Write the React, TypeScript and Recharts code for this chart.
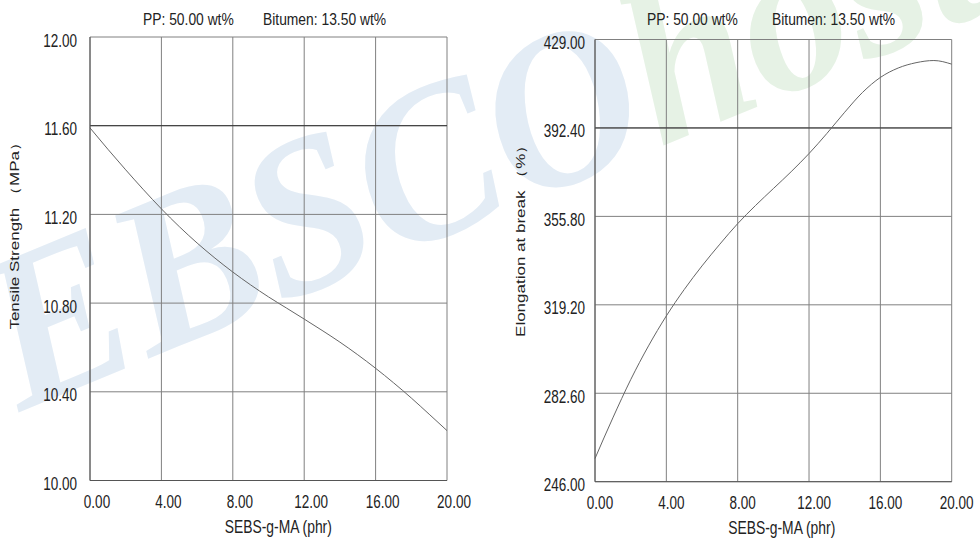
import { CartesianGrid, Line, LineChart, ReferenceLine, XAxis, YAxis } from "recharts";

// SEBS-g-MA loading (phr) and the fitted responses at PP 50 wt%, bitumen 13.5 wt%
const sebsPhr = [0, 1, 2, 3, 4, 5, 6, 7, 8, 9, 10, 11, 12, 13, 14, 15, 16, 17, 18, 19, 20];
const tensileMPa = [
  11.59, 11.494, 11.401, 11.311, 11.225, 11.145, 11.071, 11.003, 10.94, 10.882,
  10.828, 10.778, 10.728, 10.677, 10.624, 10.567, 10.506, 10.441, 10.372, 10.299, 10.225,
];
const elongationPct = [
  255.6, 272.4, 288.2, 302.2, 314.6, 325.5, 335.3, 344.3, 352.8, 360.3, 367.3,
  374.3, 381.8, 390.1, 398.9, 407.1, 413.3, 417.2, 419.4, 420.3, 418.8,
];

const xTicks = [0, 4, 8, 12, 16, 20];
const tensileTicks = [10, 10.4, 10.8, 11.2, 11.6, 12];
const elongationTicks = [246, 282.6, 319.2, 355.8, 392.4, 429];

const FONT = "'Liberation Sans', Arial, sans-serif";
const INK = "#222";
const GRID = "#808080";

const tensileData = sebsPhr.map((x, i) => ({ x, y: tensileMPa[i] }));
const elongationData = sebsPhr.map((x, i) => ({ x, y: elongationPct[i] }));

// narrow, tall labels: squeeze glyphs horizontally
function xTick(dx: number) {
  return (props: any) => {
    const { x, y, payload } = props;
    return (
      <text
        transform={`translate(${x + dx},${y + 27.5}) scale(0.73,1)`}
        textAnchor="middle"
        fontSize={18.5}
        fontFamily={FONT}
        fill={INK}
      >
        {Number(payload.value).toFixed(2)}
      </text>
    );
  };
}

function yTick(dx: number) {
  return (props: any) => {
    const { x, y, payload } = props;
    return (
      <text
        transform={`translate(${x - dx},${y + 9.5}) scale(0.73,1)`}
        textAnchor="end"
        fontSize={18.5}
        fontFamily={FONT}
        fill={INK}
      >
        {Number(payload.value).toFixed(2)}
      </text>
    );
  };
}

function Panel({
  data,
  ticks,
  yWidth,
  margin,
  xHeight,
  xDx,
  yDx,
}: {
  data: { x: number; y: number }[];
  ticks: number[];
  yWidth: number;
  margin: { top: number; right: number; bottom: number; left: number };
  xHeight: number;
  xDx: number;
  yDx: number;
}) {
  return (
    <LineChart width={490} height={539} data={data} margin={margin}>
      <CartesianGrid stroke={GRID} strokeWidth={1} />
      {/* the second grid line from the top prints darker */}
      <ReferenceLine y={ticks[4]} stroke="#333" strokeWidth={1} />
      <XAxis
        dataKey="x"
        type="number"
        domain={[0, 20]}
        ticks={xTicks}
        height={xHeight}
        tickLine={false}
        tickSize={0}
        tickMargin={0}
        axisLine={{ stroke: "#555" }}
        tick={xTick(xDx)}
        interval={0}
      />
      <YAxis
        type="number"
        domain={[ticks[0], ticks[ticks.length - 1]]}
        ticks={ticks}
        width={yWidth}
        tickLine={false}
        tickSize={0}
        tickMargin={0}
        axisLine={{ stroke: "#555" }}
        tick={yTick(yDx)}
        interval={0}
      />
      <Line
        dataKey="y"
        type="monotone"
        stroke="#666"
        strokeWidth={1}
        dot={false}
        isAnimationActive={false}
      />
    </LineChart>
  );
}

function Title({ x1, x2 }: { x1: number; x2: number }) {
  const style = { fontSize: 16.3, fontFamily: FONT, fill: INK };
  return (
    <>
      <text transform={`translate(${x1},25) scale(0.85,1)`} {...style}>
        PP: 50.00 wt%
      </text>
      <text transform={`translate(${x2},25) scale(0.85,1)`} {...style}>
        Bitumen: 13.50 wt%
      </text>
    </>
  );
}

export default function App() {
  return (
    <div
      style={{
        position: "absolute",
        left: 0,
        top: 0,
        width: 980,
        height: 539,
        background: "#fff",
        overflow: "hidden",
      }}
    >
      {/* database watermark behind the plots */}
      <svg width={980} height={539} style={{ position: "absolute", left: 0, top: 0 }}>
        <text
          transform="translate(20,412) rotate(-22.5) scale(1.03,1.08)"
          fontSize={205}
          fontWeight="bold"
          fontStyle="italic"
          fontFamily="'Liberation Serif', 'Times New Roman', serif"
        >
          <tspan fill="#e3ecf5">EBSCO</tspan>
          <tspan fill="#e6f2e5">host</tspan>
        </text>
      </svg>
      <div style={{ position: "absolute", left: 0, top: 0 }}>
        <Panel
          data={tensileData}
          ticks={tensileTicks}
          yWidth={90}
          margin={{ top: 37, right: 43, bottom: 0, left: 0 }}
          xHeight={58.5}
          xDx={7}
          yDx={13}
        />
      </div>
      <div style={{ position: "absolute", left: 490, top: 0 }}>
        <Panel
          data={elongationData}
          ticks={elongationTicks}
          yWidth={105}
          margin={{ top: 39.5, right: 28.3, bottom: 0, left: 0 }}
          xHeight={57.3}
          xDx={5}
          yDx={10}
        />
      </div>
      <svg
        width={980}
        height={539}
        style={{ position: "absolute", left: 0, top: 0, pointerEvents: "none" }}
      >
        <Title x1={143} x2={263} />
        <Title x1={647} x2={772} />
        <text
          transform="translate(19.3,231.7) rotate(-90) scale(1,0.73)"
          textAnchor="middle"
          fontSize={17}
          fontFamily={FONT}
          fill={INK}
        >
          Tensile Strength （MPa）
        </text>
        <text
          transform="translate(525,236.7) rotate(-90) scale(1,0.73)"
          textAnchor="middle"
          fontSize={17}
          fontFamily={FONT}
          fill={INK}
        >
          Elongation at break （%）
        </text>
        <text
          transform="translate(278.3,533) scale(0.75,1)"
          textAnchor="middle"
          fontSize={18.5}
          fontFamily={FONT}
          fill={INK}
        >
          SEBS-g-MA (phr)
        </text>
        <text
          transform="translate(781.7,534) scale(0.75,1)"
          textAnchor="middle"
          fontSize={18.5}
          fontFamily={FONT}
          fill={INK}
        >
          SEBS-g-MA (phr)
        </text>
      </svg>
    </div>
  );
}
